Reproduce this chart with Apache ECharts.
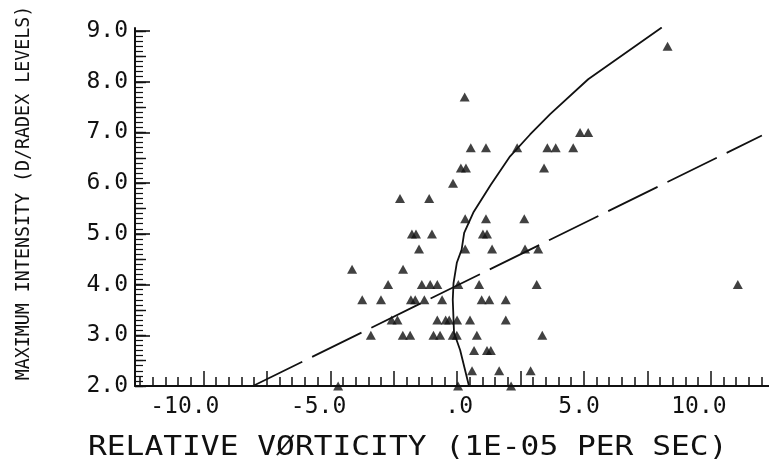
<!DOCTYPE html>
<html>
<head>
<meta charset="utf-8">
<style>
  html, body { margin: 0; padding: 0; background: #fff; }
  #main { width: 769px; height: 475px; }
</style>
<script src="https://cdn.jsdelivr.net/npm/echarts@6/dist/echarts.min.js"></script>
</head>
<body>
<div id="main"></div>
<script>
// scatter points, grouped by intensity level
var level_8_7 = [8.3];
var level_7_7 = [0.3];
var level_7_0 = [4.85, 5.17];
var level_6_7 = [0.54, 1.14, 2.37, 3.56, 3.89, 4.58];
var level_6_3 = [0.15, 0.35, 3.43];
var level_6_0 = [-0.16];
var level_5_7 = [-2.25, -1.1];
var level_5_3 = [0.32, 1.14, 2.65];
var level_5_0 = [-1.78, -1.62, -0.99, 1.02, 1.18];
var level_4_7 = [-1.5, 0.32, 1.38, 2.68, 3.2];
var level_4_3 = [-4.14, -2.13];
var level_4_0 = [-2.72, -1.39, -1.06, -0.78, 0.05, 0.87, 3.14, 11.07];
var level_3_7 = [-3.74, -3.0, -1.82, -1.65, -1.29, -0.59, 0.97, 1.27, 1.92];
var level_3_3 = [-2.58, -2.35, -0.78, -0.45, -0.31, 0.0, 0.51, 1.92];
var level_3_0 = [-3.4, -2.14, -1.85, -0.93, -0.67, -0.17, -0.01, 0.78, 3.36];
var level_2_7 = [0.67, 1.18, 1.33];
var level_2_3 = [0.59, 1.66, 2.9];
var level_2_0 = [-4.69, 0.04, 2.13];

// fitted curve (solid) and straight fit (dashed)
var curveX = [0.47, 0.12, -0.12, -0.17, -0.14, -0.01, 0.18, 0.28, 0.64, 1.33, 2.09, 2.88, 3.67, 5.17, 8.07];
var curveY = [2.0, 2.71, 3.05, 3.7, 4.03, 4.43, 4.69, 5.02, 5.42, 5.97, 6.53, 6.96, 7.36, 8.05, 9.07];
var fitX = [-8.05, 12.02];
var fitY = [2.0, 6.94];

var xTickValues = [-10, -5, 0, 5, 10];
var xTickLabels = ['-10.0', '-5.0', '.0', '5.0', '10.0'];
var yTickValues = [2, 3, 4, 5, 6, 7, 8, 9];
var yTickLabels = ['2.0', '3.0', '4.0', '5.0', '6.0', '7.0', '8.0', '9.0'];

var levels = [
  [8.7, level_8_7], [7.7, level_7_7], [7.0, level_7_0], [6.7, level_6_7],
  [6.3, level_6_3], [6.0, level_6_0], [5.7, level_5_7], [5.3, level_5_3],
  [5.0, level_5_0], [4.7, level_4_7], [4.3, level_4_3], [4.0, level_4_0],
  [3.7, level_3_7], [3.3, level_3_3], [3.0, level_3_0], [2.7, level_2_7],
  [2.3, level_2_3], [2.0, level_2_0]
];
var points = [];
levels.forEach(function (l) {
  l[1].forEach(function (x) { points.push([x, l[0]]); });
});
var curve = curveX.map(function (x, i) { return [x, curveY[i]]; });
var fit = fitX.map(function (x, i) { return [x, fitY[i]]; });

// tick positions
var xMinor = [], xMajor = [], yMinor = [], yMid = [];
for (var i = -25; i <= 24; i++) xMinor.push(i * 0.5);
for (var i = -4; i <= 4; i++) xMajor.push(i * 2.5);
for (var i = 20; i <= 90; i++) yMinor.push(i / 10);
for (var i = 4; i <= 18; i++) yMid.push(i / 2);

var ink = '#111';
var mono = '"DejaVu Sans Mono", "Liberation Mono", monospace';
var xMin = -12.7, xMax = 12.3;
var labelShift = 0.63; // labels sit right-aligned just past the tick

function xAxisBase(extra) {
  var a = {
    type: 'value', min: xMin, max: xMax, position: 'bottom',
    splitLine: { show: false },
    axisLine: { show: false, onZero: false },
    axisTick: { show: false },
    axisLabel: { show: false }
  };
  for (var k in extra) a[k] = extra[k];
  return a;
}
function yAxisBase(extra) {
  var a = {
    type: 'value', min: 2, max: 9.06, position: 'left',
    splitLine: { show: false },
    axisLine: { show: false, onZero: false },
    axisTick: { show: false },
    axisLabel: { show: false }
  };
  for (var k in extra) a[k] = extra[k];
  return a;
}

var chart = echarts.init(document.getElementById('main'));
chart.setOption({
  animation: false,
  backgroundColor: '#fff',
  grid: { left: 135, right: 0, top: 28, bottom: 89 },
  xAxis: [
    xAxisBase({
      axisLine: { show: true, onZero: false, lineStyle: { color: ink, width: 2 } },
      axisTick: { show: true, inside: true, length: 9, customValues: xMinor, lineStyle: { color: ink, width: 1.5 } }
    }),
    xAxisBase({
      axisTick: { show: true, inside: true, length: 15, customValues: xMajor, lineStyle: { color: ink, width: 1.5 } }
    }),
    xAxisBase({
      axisLabel: {
        show: true, margin: 10, align: 'right',
        customValues: xTickValues.map(function (v) { return v + labelShift; }),
        formatter: function (v) {
          for (var j = 0; j < xTickValues.length; j++) {
            if (Math.abs(xTickValues[j] + labelShift - v) < 1e-6) return xTickLabels[j];
          }
          return '';
        },
        color: ink, fontSize: 23, fontFamily: mono
      }
    })
  ],
  yAxis: [
    yAxisBase({
      axisLine: { show: true, onZero: false, lineStyle: { color: ink, width: 2 } },
      axisTick: { show: true, inside: true, length: 8, customValues: yMinor, lineStyle: { color: ink, width: 1.2 } }
    }),
    yAxisBase({
      axisTick: { show: true, inside: true, length: 11, customValues: yMid, lineStyle: { color: ink, width: 1.4 } }
    }),
    yAxisBase({
      axisTick: { show: true, inside: true, length: 15, customValues: yTickValues, lineStyle: { color: ink, width: 1.6 } },
      axisLabel: {
        show: true, margin: 7, customValues: yTickValues,
        formatter: function (v) { return yTickLabels[yTickValues.indexOf(Math.round(v))]; },
        color: ink, fontSize: 23, fontFamily: mono
      }
    })
  ],
  series: [
    {
      type: 'line', data: curve, showSymbol: false, symbol: 'none',
      lineStyle: { color: ink, width: 1.8 }, z: 3
    },
    {
      type: 'line', data: fit, showSymbol: false, symbol: 'none',
      lineStyle: { color: ink, width: 1.8, type: [55, 11] }, z: 3
    },
    {
      type: 'scatter', data: points, symbol: 'triangle', symbolSize: [10, 9],
      itemStyle: { color: ink }, z: 4
    }
  ],
  graphic: [
    {
      type: 'text', x: 88, y: 448, scaleX: 1.157,
      style: { text: 'RELATIVE VØRTICITY (1E-05 PER SEC)', font: '27px ' + mono, fill: ink, align: 'left', verticalAlign: 'middle' }
    },
    {
      type: 'text', x: 24, y: 193, rotation: Math.PI / 2, scaleX: 0.915,
      style: { text: 'MAXIMUM INTENSITY (D/RADEX LEVELS)', font: '20px ' + mono, fill: ink, align: 'center', verticalAlign: 'middle' }
    }
  ]
});
</script>
</body>
</html>
